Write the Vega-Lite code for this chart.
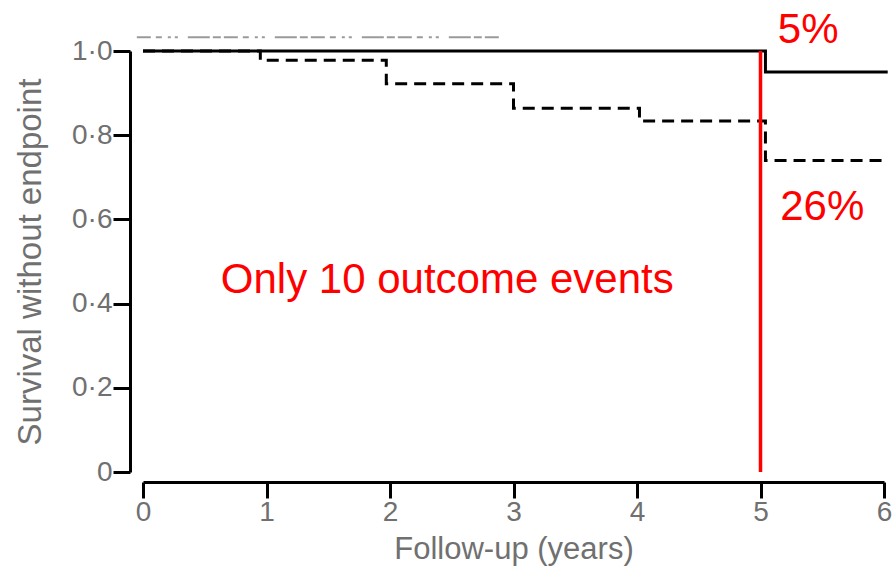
{
  "$schema": "https://vega.github.io/schema/vega-lite/v6.json",
  "width": 741,
  "height": 421,
  "autosize": {"type": "none"},
  "padding": {"left": 143, "top": 51, "right": 11, "bottom": 105},
  "background": "white",
  "config": {
    "view": {"stroke": null},
    "font": "Liberation Sans",
    "axis": {
      "grid": false,
      "domainColor": "black",
      "domainWidth": 3,
      "tickColor": "black",
      "tickWidth": 3,
      "labelColor": "#707070",
      "labelFont": "Liberation Sans",
      "labelFontSize": 28,
      "titleColor": "#707070",
      "titleFont": "Liberation Sans",
      "titleFontSize": 31,
      "titleFontWeight": "normal"
    },
    "axisY": {"titleFontSize": 33}
  },
  "datasets": {
    "curves": [
      {"group": "Treated", "t": 0, "s": 1.0},
      {"group": "Treated", "t": 5.04, "s": 0.95},
      {"group": "Treated", "t": 6.03, "s": 0.95},
      {"group": "Control", "t": 0, "s": 1.0},
      {"group": "Control", "t": 0.95, "s": 0.978},
      {"group": "Control", "t": 1.97, "s": 0.922},
      {"group": "Control", "t": 3.0, "s": 0.864},
      {"group": "Control", "t": 4.02, "s": 0.834},
      {"group": "Control", "t": 5.04, "s": 0.74},
      {"group": "Control", "t": 6.01, "s": 0.74}
    ],
    "notes": [
      {"label": "5%", "t": 5.14, "s": 1.019},
      {"label": "26%", "t": 5.16, "s": 0.599},
      {"label": "Only 10 outcome events", "t": 0.63, "s": 0.425}
    ]
  },
  "encoding": {
    "x": {
      "field": "t",
      "type": "quantitative",
      "scale": {"domain": [0, 6], "nice": false, "zero": false},
      "axis": {
        "title": "Follow-up (years)",
        "values": [0, 1, 2, 3, 4, 5, 6],
        "format": "d",
        "offset": 10,
        "tickSize": 16,
        "labelPadding": 0,
        "titlePadding": 8,
        "labelFlush": false
      }
    },
    "y": {
      "field": "s",
      "type": "quantitative",
      "scale": {"domain": [0, 1], "nice": false},
      "axis": {
        "title": "Survival without endpoint",
        "values": [0, 0.2, 0.4, 0.6, 0.8, 1.0],
        "labelExpr": "datum.value == 0 ? '0' : replace(format(datum.value, '.1f'), '.', '·')",
        "offset": 13,
        "tickSize": 17,
        "labelPadding": 1,
        "titlePadding": 24,
        "labelFlush": false
      }
    }
  },
  "layer": [
    {
      "data": {"values": [{"t": -0.05, "t1": 2.89, "s": 1.0325}]},
      "mark": {"type": "rule", "color": "#9a9a9a", "strokeWidth": 2, "strokeDash": [14, 5, 6, 6, 3, 4, 3, 10, 22, 3, 8, 3]},
      "encoding": {"x2": {"field": "t1"}}
    },
    {
      "data": {"name": "curves"},
      "transform": [{"filter": "datum.group == 'Control'"}],
      "mark": {"type": "line", "interpolate": "step-after", "color": "black", "strokeWidth": 3, "strokeDash": [12, 7], "clip": false}
    },
    {
      "data": {"name": "curves"},
      "transform": [{"filter": "datum.group == 'Treated'"}],
      "mark": {"type": "line", "interpolate": "step-after", "color": "black", "strokeWidth": 3, "clip": false}
    },
    {
      "data": {"values": [{"t": 5, "s": 0, "s1": 1}]},
      "mark": {"type": "rule", "color": "#ff0000", "strokeWidth": 3.5},
      "encoding": {"y2": {"field": "s1"}}
    },
    {
      "data": {"name": "notes"},
      "mark": {"type": "text", "color": "#ff0000", "fontSize": 42, "font": "Liberation Sans", "align": "left", "baseline": "alphabetic"},
      "encoding": {"text": {"field": "label"}}
    }
  ]
}
